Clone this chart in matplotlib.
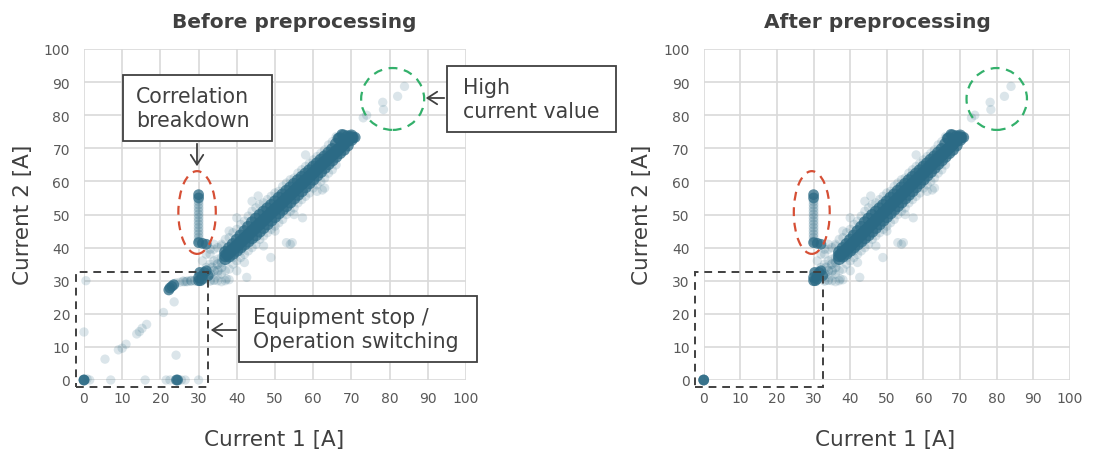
import numpy as np
import matplotlib
matplotlib.use("Agg")
import matplotlib.pyplot as plt
from matplotlib.patches import Ellipse, Rectangle, FancyArrowPatch

# --- data (Current 1 [A], Current 2 [A]) ---
# main correlated band: x with centre / upper / lower edge of the dense band
band_x = [37, 38, 39, 40, 41, 42, 43, 44, 45, 46, 47, 48, 49, 50, 51, 52, 53,
          54, 55, 56, 57, 58, 59, 60, 61, 62, 63, 64, 65, 66, 67, 68, 69, 70]
band_mid = [37.5, 38.5, 39.5, 40.6, 41.7, 42.8, 43.9, 45.0, 46.1, 47.2, 48.3, 49.4,
            50.5, 51.6, 52.7, 53.8, 54.9, 56.0, 57.1, 58.2, 59.3, 60.4, 61.5, 62.6,
            63.7, 64.8, 65.9, 67.0, 68.0, 69.1, 70.2, 71.3, 72.4, 73.3]
band_up = [38.6, 39.8, 41.0, 42.3, 43.6, 44.9, 46.2, 47.6, 48.7, 49.8, 50.8, 51.8,
           52.8, 53.9, 55.0, 56.0, 57.1, 58.1, 59.2, 60.3, 61.3, 62.3, 63.3, 64.4,
           65.4, 66.5, 67.5, 68.6, 69.7, 71.3, 73.0, 73.8, 73.5, 73.8]
band_low = [36.6, 37.4, 38.2, 39.1, 40.1, 41.0, 41.9, 42.9, 43.8, 44.9, 46.0, 47.1,
            48.2, 49.3, 50.4, 51.5, 52.6, 53.7, 54.9, 56.0, 57.1, 58.3, 59.5, 60.6,
            61.8, 62.9, 64.1, 65.3, 66.4, 67.5, 68.6, 69.6, 70.9, 72.6]
# band centre between the whole-amp steps
band_x_half = [37.5, 38.5, 39.5, 40.5, 41.5, 42.5, 43.5, 44.5, 45.5, 46.5, 47.5,
               48.5, 49.5, 50.5, 51.5, 52.5, 53.5, 54.5, 55.5, 56.5, 57.5, 58.5,
               59.5, 60.5, 61.5, 62.5, 63.5, 64.5, 65.5, 66.5, 67.5, 68.5, 69.5]
band_mid_half = [38.0, 39.0, 40.0, 41.1, 42.2, 43.3, 44.4, 45.5, 46.6, 47.7, 48.8,
                 49.9, 51.0, 52.1, 53.2, 54.3, 55.4, 56.5, 57.6, 58.7, 59.8, 60.9,
                 62.0, 63.1, 64.2, 65.3, 66.4, 67.5, 68.5, 69.6, 70.7, 71.8, 72.9]

# other dense spots (start-up cluster, breakdown ends, stop points)
dense_x = [30, 30, 30.5, 31, 31, 31.5, 32, 30.3, 32.5, 30, 31, 32, 30, 30,
           67.5, 70.5, 71, 66.5, 0, 0, 24.2, 24.5, 22.5, 23, 23.5, 22.2]
dense_y = [30, 31, 30, 30.5, 31.5, 32.5, 33, 32.5, 31.5, 41.5, 41.3, 41, 56, 55,
           74.2, 73.2, 73.3, 73, 0, 0, 0, 0, 27.8, 28.3, 28.8, 27.2]

# medium density points (vertical streak at 30 A, transition zone)
mid_x = [30, 30, 30, 30, 30, 30, 30, 30, 30, 30, 30, 30, 30,
         33, 34, 35, 36, 33.5, 35, 36, 26, 27, 28, 29, 33, 34]
mid_y = [42, 43, 44, 45, 46, 47, 48, 49, 50, 51, 52, 53, 54,
         32, 33, 35, 35.5, 34, 33, 34, 29.8, 29.8, 30, 30, 30, 30.2]

# sparse / faint points
faint_x = [33, 34, 35, 36, 37, 38, 39, 40, 41, 42, 43, 44, 45, 46, 47, 48, 49, 50,
           51, 52, 53, 54, 55, 56, 57, 58, 59, 60, 61, 62, 63, 64, 65, 66,
           35, 36, 37, 38, 39, 40, 41, 42, 43, 44, 45, 46, 47, 48, 49, 50, 51, 52,
           53, 54, 55, 56, 57, 58, 59, 60, 61, 62, 63, 64, 65, 66,
           45.6, 57.2, 62.4, 42.6, 37.3, 48.9, 53, 54.5, 54, 73.1, 74, 44, 40, 38,
           58, 63, 36, 34, 33, 32, 35, 38, 31, 32, 33, 34, 36, 39, 41, 43, 61, 50,
           47, 55, 42, 40,
           0.5, 0, 1.5, 5.5, 7, 9, 10, 11, 13.8, 14.5, 15.2, 16.4, 16, 20.8, 21.5,
           22.5, 23.6, 24.1, 25.5, 26.5, 30, 0.8, 35, 37, 38, 36, 25, 24, 26.5, 28,
           78.2, 78.4, 82.1, 83.9]
faint_y = [38, 39.5, 40, 41, 42.5, 43, 44.5, 45.5, 47, 48, 49.5, 51, 52, 53, 53.5,
           54.5, 55.5, 56.5, 57, 58.5, 59.5, 60.5, 61, 62.5, 63.5, 64.5, 65.5, 66.5,
           67.5, 68.5, 69.5, 71, 72, 73.5,
           31.5, 32, 33, 33.5, 35, 36, 37, 38, 39, 40, 41, 42.5, 43.5, 44.5, 45.5,
           46.5, 47.5, 48.5, 50, 51, 52, 53.5, 54.5, 55.5, 56.5, 58, 59, 60, 61,
           62.5, 63.5, 65,
           55.6, 49, 57.4, 31, 30.5, 37, 41.5, 41.5, 41, 79.2, 80, 54, 49, 45,
           68, 58, 37, 36, 35, 34, 36.5, 39, 36, 38, 39.5, 41, 40.5, 37, 39, 43, 57,
           45, 40.5, 50, 35.5, 33,
           30, 14.5, 0, 6.3, 0, 9.1, 9.6, 10.8, 13.9, 14.6, 15.6, 16.8, 0, 20.4, 0,
           0, 23.6, 7.5, 0, 0, 0, 0.3, 30, 30, 30.3, 29.7, 29.5, 29.3, 29.7, 29.9,
           83.9, 81.7, 85.7, 88.7]

TEAL = "#2b6a85"
GRID = "#d9d9d9"
TEXT = "#404040"
TICK = "#595959"

W, H = 1105, 452


def fx(px):
    return px / W


def fy(py):
    return 1 - py / H


def keep_after(x, y):
    # preprocessing drops the stop / switching points, except the exact zero
    x = np.asarray(x, float)
    y = np.asarray(y, float)
    m = ((x >= 29.5) & (y >= 29)) | ((x == 0) & (y == 0))
    return x[m], y[m]


def draw_points(ax, after=False):
    bx = band_x * 3 + band_x_half
    by = band_mid + band_up + band_low + band_mid_half
    groups = [
        (faint_x, faint_y, 0.17, 45),
        (mid_x, mid_y, 0.25, 50),
        (bx, by, 0.75, 80),
        (dense_x, dense_y, 0.75, 60),
    ]
    for gx, gy, a, s in groups:
        if after:
            gx, gy = keep_after(gx, gy)
        ax.scatter(gx, gy, s=s, color=TEAL, alpha=a, edgecolors="none",
                   clip_on=False, zorder=3)


def style_axes(ax):
    ax.set_xlim(0, 100)
    ax.set_ylim(0, 100)
    ax.set_xticks(range(0, 101, 10))
    ax.set_yticks(range(0, 101, 10))
    ax.grid(True, color=GRID, lw=1.2)
    ax.set_axisbelow(True)
    for s in ax.spines.values():
        s.set_visible(False)
    ax.tick_params(length=0, labelsize=10, labelcolor=TICK)
    ax.tick_params(axis="x", pad=8)
    ax.tick_params(axis="y", pad=10)


def marks(ax, red_cx, green_cx, rect_x0):
    ax.add_patch(Ellipse((red_cx, 50.6), 9.8, 25, fill=False, ec="#d64f35",
                         lw=1.6, ls=(0, (4, 3)), clip_on=False, zorder=4))
    ax.add_patch(Ellipse((green_cx, 84.9), 16.5, 18.7, fill=False, ec="#33b06b",
                         lw=1.6, ls=(0, (4, 3)), clip_on=False, zorder=4))
    ax.add_patch(Rectangle((rect_x0, -2.1), 32.5 - rect_x0, 34.7, fill=False,
                           ec=TEXT, lw=1.4, ls=(0, (4, 3)), clip_on=False, zorder=4))


def note_box(fig, x0, y0, x1, y1, text, tx):
    fig.add_artist(Rectangle((fx(x0), fy(y1)), fx(x1) - fx(x0), fy(y0) - fy(y1),
                             transform=fig.transFigure, fc="white", ec=TEXT, lw=1.3,
                             zorder=5))
    fig.text(fx(tx), fy((y0 + y1) / 2), text, ha="left", va="center",
             fontsize=14.8, color=TEXT, linespacing=1.25, zorder=6)


def arrow(fig, start, end):
    fig.add_artist(FancyArrowPatch(
        (fx(start[0]), fy(start[1])), (fx(end[0]), fy(end[1])),
        transform=fig.transFigure, arrowstyle="->,head_length=7,head_width=4.5",
        color=TEXT, lw=1.3, zorder=6))


fig = plt.figure(figsize=(W / 100, H / 100), dpi=100)

ax1 = fig.add_axes([fx(84), fy(381), fx(466) - fx(84), fy(50) - fy(381)])
ax2 = fig.add_axes([fx(703.7), fy(381), fx(1070) - fx(703.7), fy(50) - fy(381)])

for ax, after in [(ax1, False), (ax2, True)]:
    style_axes(ax)
    draw_points(ax, after)

marks(ax1, 29.6, 80.8, -2.1)
marks(ax2, 29.5, 80.0, -2.4)

# titles and axis labels
fig.text(fx(294), fy(23), "Before preprocessing", ha="center", va="center",
         fontsize=14.5, fontweight="bold", color=TEXT)
fig.text(fx(877), fy(23), "After preprocessing", ha="center", va="center",
         fontsize=14.5, fontweight="bold", color=TEXT)
for cx in [274, 885]:
    fig.text(fx(cx), fy(440), "Current 1 [A]", ha="center", va="center",
             fontsize=15.5, color=TEXT)
for cx in [23, 642]:
    fig.text(fx(cx), fy(215), "Current 2 [A]", ha="center", va="center",
             fontsize=15.5, color=TEXT, rotation=90)

# callouts
note_box(fig, 123, 76, 272, 142, "Correlation\nbreakdown", 136)
arrow(fig, (197, 142), (197, 170))
note_box(fig, 447, 67, 616, 133, "High\ncurrent value", 463)
arrow(fig, (447, 99), (423, 99))
note_box(fig, 239, 297, 477, 363, "Equipment stop /\nOperation switching", 253)
arrow(fig, (239, 331), (208, 331))

fig.savefig("out.png", dpi=100)
